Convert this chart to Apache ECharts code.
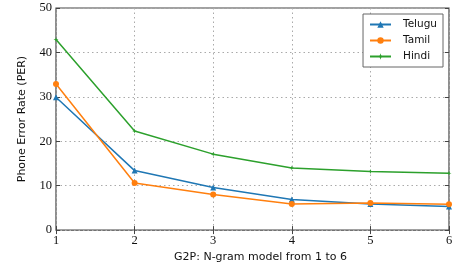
<!DOCTYPE html>
<html><head><meta charset="utf-8">
<script src="https://cdn.jsdelivr.net/npm/echarts@6/dist/echarts.min.js"></script>
<style>html,body{margin:0;padding:0;background:#fff}#c{width:463px;height:268px}</style>
</head><body><div id="c"></div>
<script>
const categories = [1, 2, 3, 4, 5, 6];
const telugu = [29.9, 13.4, 9.6, 6.9, 5.9, 5.3];
const tamil = [32.9, 10.6, 8.0, 5.9, 6.1, 5.8];
const hindi = [42.9, 22.3, 17.1, 14.0, 13.2, 12.8];
const yTicks = [0, 10, 20, 30, 40, 50];

const serif = 'Liberation Serif';
const sans = 'DejaVu Sans';
const frame = '#444';
const chart = echarts.init(document.getElementById('c'));
function pairs(arr){ return categories.map((c,i)=>[c, arr[i]]); }
const common = {type:'line', lineStyle:{width:1.5}, animation:false};
chart.setOption({
  animation:false,
  grid:{left:56, right:14, top:8, bottom:32, show:true, borderColor:frame, borderWidth:1.2},
  legend:{
    right:20, top:14, orient:'vertical', itemGap:5, itemWidth:21, itemHeight:8,
    backgroundColor:'#fff', borderColor:'#666', borderWidth:1, borderRadius:0, padding:[5,6,5,6],
    textStyle:{fontFamily:sans, fontSize:10.5, color:'#111', padding:[0,0,0,7]},
    data:['Telugu','Tamil','Hindi']
  },
  xAxis:[{
    type:'value', min:1, max:6, interval:1,
    name:'G2P: N-gram model from 1 to 6', nameLocation:'middle', nameGap:20,
    nameTextStyle:{fontFamily:sans, fontSize:11, color:'#111', padding:[0,0,0,16]},
    axisLine:{show:false}, axisTick:{show:true, inside:true, length:4, lineStyle:{color:frame}},
    axisLabel:{fontFamily:serif, fontSize:12.5, color:'#111', margin:4},
    splitLine:{show:true, lineStyle:{type:[1.5,3], color:'#aaa'}}
  },{
    type:'value', min:1, max:6, interval:1, position:'top',
    axisLine:{show:false}, axisTick:{show:true, inside:true, length:4, lineStyle:{color:frame}},
    axisLabel:{show:false}, splitLine:{show:false}
  }],
  yAxis:[{
    type:'value', min:0, max:50, interval:10,
    name:'Phone Error Rate (PER)', nameLocation:'middle', nameGap:28,
    nameTextStyle:{fontFamily:sans, fontSize:11, color:'#111'},
    axisLine:{show:false}, axisTick:{show:true, inside:true, length:4, lineStyle:{color:frame}},
    axisLabel:{fontFamily:serif, fontSize:12.5, color:'#111', margin:4, formatter:v=>yTicks.includes(v)?String(v):''},
    splitLine:{show:true, lineStyle:{type:[1.5,3], color:'#aaa'}}
  },{
    type:'value', min:0, max:50, interval:10, position:'right',
    axisLine:{show:false}, axisTick:{show:true, inside:true, length:4, lineStyle:{color:frame}},
    axisLabel:{show:false}, splitLine:{show:false}
  }],
  series:[
    Object.assign({}, common, {name:'Telugu', data:pairs(telugu), symbol:'triangle', symbolSize:6, color:'#1f77b4'}),
    Object.assign({}, common, {name:'Tamil', data:pairs(tamil), symbol:'circle', symbolSize:6, color:'#ff7f0e'}),
    Object.assign({}, common, {name:'Hindi', data:pairs(hindi), symbol:'path://M0,-5L1.2,-1.2L5,0L1.2,1.2L0,5L-1.2,1.2L-5,0L-1.2,-1.2Z', symbolSize:5, color:'#2ca02c'})
  ]
});
</script></body></html>
